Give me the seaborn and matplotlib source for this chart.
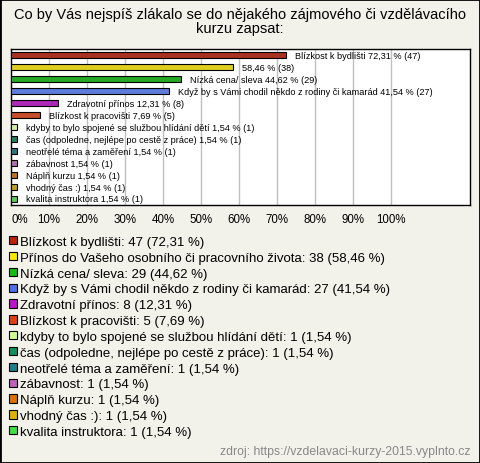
import numpy as np
import pandas as pd
import seaborn as sns
import matplotlib.pyplot as plt
from matplotlib.patches import Patch, Rectangle

categories = [
    'Blízkost k bydlišti',
    'Přínos do Vašeho osobního či pracovního života',
    'Nízká cena/ sleva',
    'Když by s Vámi chodil někdo z rodiny či kamarád',
    'Zdravotní přínos',
    'Blízkost k pracovišti',
    'kdyby to bylo spojené se službou hlídání dětí',
    'čas (odpoledne, nejlépe po cestě z práce)',
    'neotřelé téma a zaměření',
    'zábavnost',
    'Náplň kurzu',
    'vhodný čas :)',
    'kvalita instruktora',
]
counts = [47, 38, 29, 27, 8, 5, 1, 1, 1, 1, 1, 1, 1]
percents = [72.31, 58.46, 44.62, 41.54, 12.31, 7.69, 1.54, 1.54, 1.54, 1.54, 1.54, 1.54, 1.54]
# the 2nd bar label in the chart omits the category name
bar_names = [
    'Blízkost k bydlišti', '', 'Nízká cena/ sleva',
    'Když by s Vámi chodil někdo z rodiny či kamarád',
    'Zdravotní přínos', 'Blízkost k pracovišti',
    'kdyby to bylo spojené se službou hlídání dětí',
    'čas (odpoledne, nejlépe po cestě z práce)',
    'neotřelé téma a zaměření', 'zábavnost', 'Náplň kurzu',
    'vhodný čas :)', 'kvalita instruktora',
]
colors = ['#c0200a', '#ffe800', '#10c010', '#4a70f0', '#c010d0', '#e04010',
          '#d0ff90', '#10905a', '#1a8090', '#c060c0', '#e07000', '#e0b000', '#40e040']
xticks = [0, 10, 20, 30, 40, 50, 60, 70, 80, 90, 100]

BG = '#f3f2ea'
plt.rcParams['font.family'] = ['Liberation Sans', 'DejaVu Sans']

df = pd.DataFrame({'cat': categories, 'pct': percents, 'n': counts})

fig = plt.figure(figsize=(4.8, 4.64), dpi=100, facecolor=BG)
ax = fig.add_axes([11/480, 1-206/464, 459/480, 156/464])
ax.set_facecolor('white')

sns.barplot(data=df, x='pct', y='cat', hue='cat', palette=colors, legend=False,
            orient='h', width=0.5, edgecolor='black', linewidth=0.8, ax=ax, zorder=3)

for i, (name, p, n) in enumerate(zip(bar_names, percents, counts)):
    txt = f'{p:.2f} % ({n})'.replace('.', ',')
    lab = (name + ' ' + txt) if name else txt
    ax.annotate(lab, (p, i), xytext=(6.5, 0), textcoords='offset points',
                va='center', ha='left', fontsize=6.6, zorder=4)

ax.set_xlim(0, 120.8)
ax.set_xticks(xticks)
ax.set_xticklabels([f'{t}%' for t in xticks], fontsize=8.3)
ax.get_xticklabels()[0].set_horizontalalignment('left')
ax.tick_params(axis='x', length=0, pad=6)
ax.set_yticks([])
ax.set_xlabel('')
ax.set_ylabel('')
ax.grid(axis='x', color='#c0c0c0', linewidth=1, zorder=0)
ax.set_axisbelow(True)
for s in ax.spines.values():
    s.set_color('black')
    s.set_linewidth(1)

fig.text(0.5, 1-21.5/464, 'Co by Vás nejspíš zlákalo se do nějakého zájmového či vzdělávacího\nkurzu zapsat:',
         ha='center', va='center', fontsize=10.5, linespacing=1.0)

handles = [Patch(facecolor=c, edgecolor='black', linewidth=0.8) for c in colors]
labels = [f'{c}: {n} ({p:.2f} %)'.replace('.', ',') for c, n, p in zip(categories, counts, percents)]
fig.legend(handles, labels, loc='upper left', bbox_to_anchor=(5/480, 1-233/464),
           frameon=False, fontsize=9.5, handlelength=0.6, handleheight=0.6,
           handletextpad=0.2, labelspacing=0.29, borderaxespad=0, borderpad=0.3)

fig.text(470/480, 1-452/464, 'zdroj: https://vzdelavaci-kurzy-2015.vyplnto.cz',
         ha='right', va='center', fontsize=8.8, color='#888888')

fig.patches.append(Rectangle((0, 0), 1, 1, transform=fig.transFigure, fill=False,
                             edgecolor='black', linewidth=2))

fig.savefig('out.png', dpi=100, facecolor=BG)
